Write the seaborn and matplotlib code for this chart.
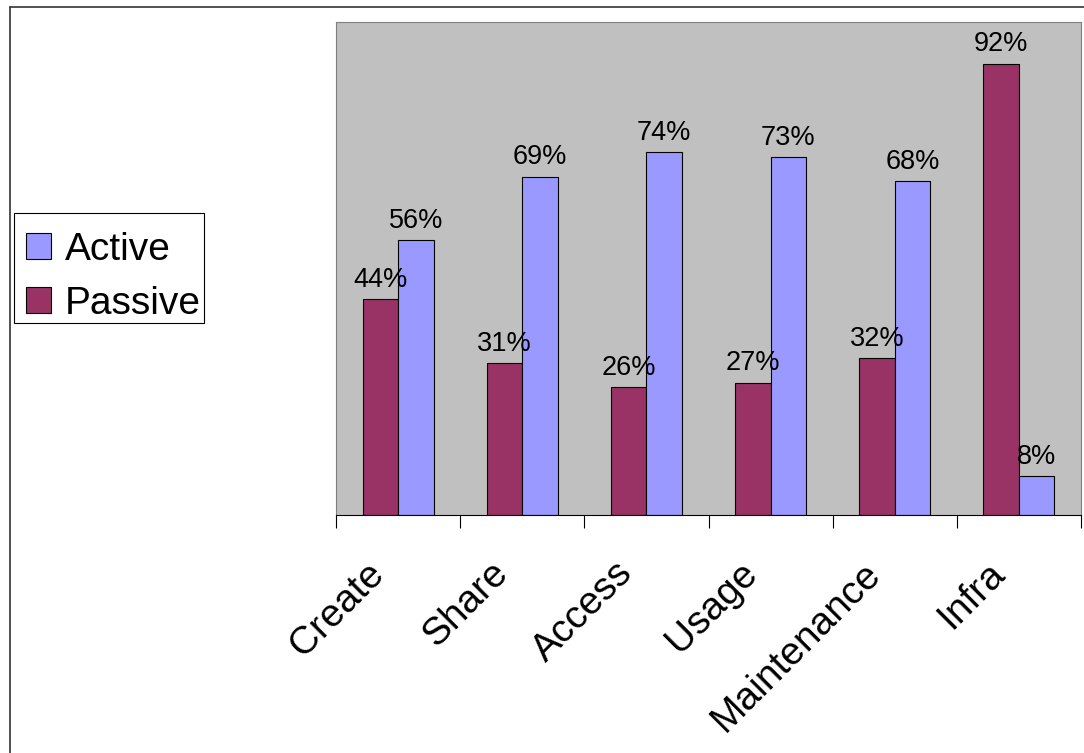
import matplotlib
matplotlib.use("Agg")
import matplotlib.pyplot as plt
import matplotlib.transforms as mtransforms
from matplotlib.patches import Patch, Rectangle
from matplotlib.lines import Line2D
import seaborn as sns
import pandas as pd

categories = ["Create", "Share", "Access", "Usage", "Maintenance", "Infra"]
passive = [44, 31, 26, 27, 32, 92]
active = [56, 69, 74, 73, 68, 8]
series_names = ["Passive", "Active"]
colors = {"Passive": "#993366", "Active": "#9999FF"}

df = pd.DataFrame({
    "category": categories * 2,
    "series": ["Passive"] * len(categories) + ["Active"] * len(categories),
    "value": passive + active,
})

sns.set_style("white")
plt.rcParams["font.family"] = ["Liberation Sans", "DejaVu Sans"]
plt.rcParams["text.color"] = "black"
plt.rcParams["xtick.color"] = "black"
plt.rcParams["xtick.labelcolor"] = "black"

W, H = 1084, 753
fig = plt.figure(figsize=(W / 100, H / 100), dpi=100)
ax = fig.add_axes([336 / W, 1 - 515 / H, (1081 - 336) / W, (515 - 22) / H])

sns.barplot(data=df, x="category", y="value", hue="series", order=categories,
            hue_order=series_names, palette=colors, width=0.571, gap=0,
            edgecolor="black", linewidth=0.8, saturation=1, ax=ax, legend=False)

ax.set_facecolor("#C0C0C0")
ax.set_xlim(-0.5, len(categories) - 0.5)
ax.set_ylim(0, 100.5)
ax.set_yticks([])
ax.set_xlabel("")
ax.set_ylabel("")
for s in ["left", "top", "right"]:
    ax.spines[s].set_color("#808080")
    ax.spines[s].set_linewidth(0.8)
ax.spines["bottom"].set_color("black")
ax.spines["bottom"].set_linewidth(0.8)

# tick marks at category boundaries
ax.set_xticks([i - 0.5 for i in range(len(categories) + 1)], minor=True)
ax.tick_params(axis="x", which="minor", bottom=True, length=9, width=0.8,
               color="black", direction="out")
ax.set_xticks(range(len(categories)))
ax.set_xticklabels(categories, rotation=45, ha="right", va="top",
                   rotation_mode="anchor", fontsize=28, color="black")
ax.tick_params(axis="x", which="major", bottom=True, length=0, pad=29)
offset = mtransforms.ScaledTranslation(-0.32, 0, fig.dpi_scale_trans)
for lab in ax.get_xticklabels():
    lab.set_transform(lab.get_transform() + offset)

for cont, name in zip(ax.containers, series_names):
    vals = passive if name == "Passive" else active
    ax.bar_label(cont, labels=[f"{v}%" for v in vals], padding=4.5,
                 fontsize=19.5, color="black")

# legend box
fig.add_artist(Rectangle((14 / W, 1 - 323 / H), (204 - 14) / W, (323 - 213) / H,
                         transform=fig.transFigure, facecolor="white",
                         edgecolor="black", linewidth=0.8, zorder=2))
leg = fig.legend(handles=[Patch(facecolor=colors["Active"], edgecolor="black", linewidth=0.8),
                          Patch(facecolor=colors["Passive"], edgecolor="black", linewidth=0.8)],
                 labels=["Active", "Passive"], loc="upper left",
                 bbox_to_anchor=(15 / W, 1 - 221 / H), borderaxespad=0,
                 fontsize=28, frameon=False,
                 handlelength=0.65, handleheight=0.65,
                 handletextpad=0.35, borderpad=0.28, labelspacing=0.46)
leg.set_zorder(3)
for t in leg.get_texts():
    t.set_color("black")

# outer frame (partially visible)
fig.add_artist(Line2D([10 / W, 1], [1 - 7 / H, 1 - 7 / H], transform=fig.transFigure,
                      color="#333333", linewidth=1.2))
fig.add_artist(Line2D([10 / W, 10 / W], [0, 1 - 7 / H], transform=fig.transFigure,
                      color="#333333", linewidth=1.2))

fig.savefig("out.png", dpi=100)
